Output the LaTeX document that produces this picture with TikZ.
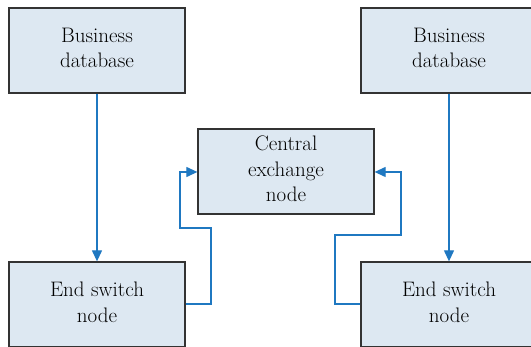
\documentclass[tikz,border=0pt]{standalone}
\usetikzlibrary{arrows.meta}
\definecolor{boxfill}{HTML}{DDE8F2}
\definecolor{boxline}{HTML}{333333}
\definecolor{arrowblue}{HTML}{1F78C1}
\begin{document}
\begin{tikzpicture}[x=1pt,y=-1pt,
  box/.style={draw=boxline,fill=boxfill,line width=1.3pt,minimum width=176pt,minimum height=85pt,
    align=center,font=\fontsize{21}{25.5}\selectfont,inner sep=0pt,text depth=5pt},
  conn/.style={draw=arrowblue,line width=1.2pt,-{Triangle[length=11pt,width=10pt]}}]
\useasboundingbox (0,0) rectangle (531,347);
\node[box] (bd1) at (97,50.5) {Business\\database};
\node[box] (bd2) at (449,50.5) {Business\\database};
\node[box] (ce) at (286,171.5) {Central\\exchange\\node};
\node[box] (es1) at (97,304.5) {End switch\\node};
\node[box] (es2) at (449,304.5) {End switch\\node};
\coordinate (l1) at (211,304);
\coordinate (l2) at (211,228);
\coordinate (l3) at (180,228);
\coordinate (l4) at (180,172);
\coordinate (r1) at (335,304);
\coordinate (r2) at (335,235);
\coordinate (r3) at (401,235);
\coordinate (r4) at (401,172);
\draw[conn] (bd1) -- (es1);
\draw[conn] (bd2) -- (es2);
\draw[conn] (es1.east |- l1) -- (l1) -- (l2) -- (l3) -- (l4) -- (ce.west |- l4);
\draw[conn] (es2.west |- r1) -- (r1) -- (r2) -- (r3) -- (r4) -- (ce.east |- r4);
\end{tikzpicture}
\end{document}
